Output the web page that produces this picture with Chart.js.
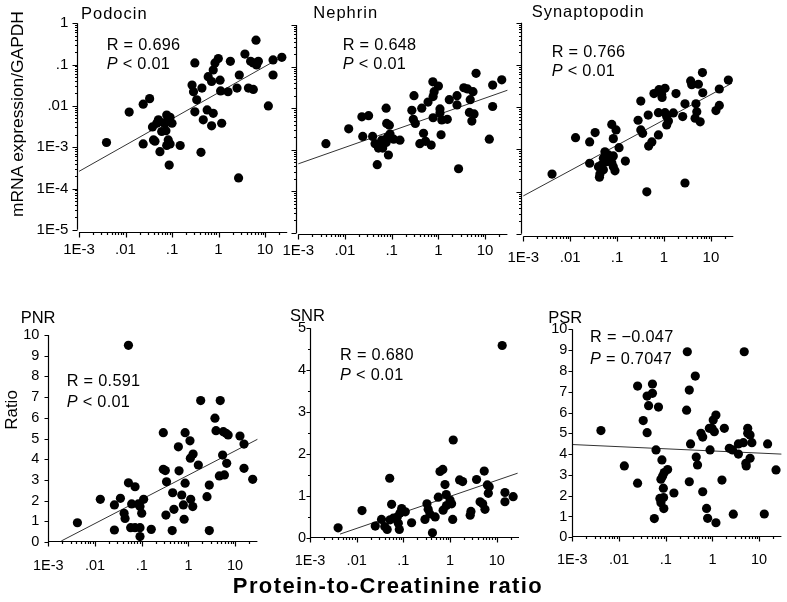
<!DOCTYPE html>
<html>
<head>
<meta charset="utf-8">
<script src="https://cdn.jsdelivr.net/npm/chart.js@4.4.1/dist/chart.umd.min.js"></script>
<style>
body { margin: 0; background: #fff; }
#fig { position: relative; width: 787px; height: 602px; overflow: hidden; font-family: "Liberation Sans", Arial, sans-serif; color: #000; }
#fig canvas { position: absolute; }
.t { position: absolute; white-space: nowrap; line-height: 1; }
</style>
</head>
<body>
<div id="fig"></div>
<script>
// axis ticks
const pcrTicks = [0.001, 0.01, 0.1, 1, 10];
const pcrLabels = ['1E-3', '.01', '.1', '1', '10'];
const mrnaTicks = [0.00001, 0.0001, 0.001, 0.01, 0.1, 1];
const mrnaLabels = ['1E-5', '1E-4', '1E-3', '.01', '.1', '1'];
const ratioTicks10 = [0, 1, 2, 3, 4, 5, 6, 7, 8, 9, 10];
const ratioTicks5 = [0, 0.5, 1, 1.5, 2, 2.5, 3, 3.5, 4, 4.5, 5];

// Podocin
const podocinPcr = [0.0039,0.012,0.024,0.033,0.024,0.040,0.043,0.038,0.051,0.047,0.065,0.060,0.071,0.077,0.091,0.10,0.074,0.083,0.077,0.091,0.055,0.087,0.15,0.31,0.27,0.29,0.34,0.31,0.44,0.47,0.42,0.57,0.60,0.71,0.77,0.84,0.99,1.08,1.11,0.77,0.71,1.17,1.6,1.8,2.8,2.5,2.7,3.7,4.9,5.6,6.6,4.4,5.6,6.4,7.2,11.8,14.9,23,14.9];
const podocinMrna = [0.0013,0.0071,0.011,0.015,0.0012,0.0015,0.0014,0.0031,0.0046,0.0038,0.0039,0.0024,0.0038,0.0060,0.0053,0.0038,0.0025,0.0015,0.0011,0.0012,0.00078,0.00037,0.0011,0.11,0.032,0.022,0.014,0.0072,0.027,0.0046,0.00075,0.0080,0.051,0.039,0.074,0.11,0.14,0.042,0.023,0.0066,0.0033,0.0038,0.022,0.12,0.056,0.027,0.00018,0.18,0.12,0.11,0.098,0.027,0.025,0.39,0.12,0.010,0.13,0.15,0.056];
const podocinFitX = [0.001, 27];
const podocinFitY = [0.00026, 0.17];

// Nephrin
const nephrinPcr = [0.0039,0.012,0.023,0.032,0.024,0.039,0.044,0.052,0.064,0.076,0.081,0.092,0.11,0.15,0.061,0.089,0.078,0.076,0.085,0.049,0.27,0.30,0.29,0.32,0.44,0.48,0.40,0.53,0.70,0.60,0.76,1.0,0.81,0.77,0.77,1.08,1.08,1.14,1.18,1.55,1.71,2.5,2.5,2.7,3.5,4.2,4.8,5.5,6.4,4.6,5.8,5.2,12.3,14.5,14.5,22.7];
const nephrinMrna = [0.0014,0.0032,0.0062,0.0066,0.0021,0.0021,0.0014,0.0011,0.0011,0.0015,0.0020,0.0024,0.0018,0.0017,0.0017,0.0039,0.0043,0.010,0.00075,0.00044,0.0089,0.020,0.0054,0.0043,0.010,0.0025,0.0014,0.0016,0.0013,0.014,0.043,0.034,0.025,0.019,0.0059,0.0096,0.0077,0.0023,0.0052,0.0054,0.016,0.020,0.012,0.00035,0.031,0.029,0.016,0.025,0.069,0.0079,0.0073,0.0049,0.0018,0.036,0.011,0.048];
const nephrinFitX = [0.001, 30];
const nephrinFitY = [0.00046, 0.027];

// Synaptopodin
const synaptoPcr = [0.0041,0.013,0.026,0.034,0.026,0.077,0.095,0.083,0.11,0.15,0.055,0.065,0.051,0.060,0.071,0.083,0.077,0.047,0.040,0.051,0.043,0.042,0.090,0.083,0.32,0.28,0.32,0.35,0.46,0.47,0.55,0.76,0.43,0.61,0.78,0.89,1.05,0.91,0.76,1.05,1.14,1.24,1.14,1.58,1.8,2.5,2.8,2.8,3.7,3.9,5.4,4.8,5.0,4.6,5.9,6.6,6.7,12.8,15.1,15.1,23.5];
const synaptoMrna = [0.00026,0.0019,0.0015,0.0025,0.00047,0.0039,0.0029,0.0018,0.0011,0.00053,0.00088,0.00074,0.00062,0.00051,0.00058,0.00070,0.00048,0.00043,0.00039,0.00033,0.00026,0.00022,0.00031,0.00039,0.014,0.0049,0.0029,0.0024,0.0065,0.0012,0.0015,0.0022,0.000099,0.021,0.026,0.020,0.028,0.017,0.0074,0.0074,0.0060,0.0047,0.0038,0.0073,0.021,0.0060,0.012,0.00016,0.042,0.034,0.035,0.012,0.0078,0.0055,0.0045,0.066,0.022,0.0083,0.011,0.027,0.044];
const synaptoFitX = [0.001, 28];
const synaptoFitY = [0.000079, 0.037];

// PNR
const pnrPcr = [0.0042,0.013,0.026,0.026,0.035,0.042,0.044,0.052,0.052,0.061,0.072,0.058,0.072,0.085,0.092,0.092,0.092,0.10,0.11,0.16,0.29,0.29,0.32,0.34,0.33,0.45,0.46,0.49,0.61,0.63,0.72,0.78,0.81,0.85,0.85,1.08,1.1,1.26,1.12,1.24,1.63,1.83,2.5,2.8,2.8,3.7,3.9,4.8,5.6,6.4,7.1,5.4,4.6,5.9,6.6,12.7,15.5,15.5,23.8];
const pnrRatio = [0.93,2.06,0.58,1.79,2.11,1.39,1.14,2.86,9.5,1.84,2.67,0.69,0.69,1.84,1.71,0.69,0.26,1.39,2.06,0.61,5.28,3.51,3.45,2.91,1.30,0.55,2.38,1.58,4.60,3.44,2.27,1.79,1.10,5.28,2.84,4.89,4.05,4.25,2.06,1.71,3.72,6.83,2.19,2.75,0.55,5.98,5.38,6.83,5.33,5.25,5.17,4.20,3.19,3.24,3.80,5.12,4.73,3.56,3.03];
const pnrFitX = [0.0019, 30];
const pnrFitY = [0.05, 4.96];

// SNR
const snrPcr = [0.0040,0.013,0.025,0.034,0.040,0.045,0.051,0.056,0.052,0.061,0.074,0.085,0.092,0.078,0.082,0.11,0.15,0.32,0.34,0.29,0.37,0.48,0.42,0.56,0.61,0.70,0.78,0.83,0.71,0.84,1.0,1.08,1.14,1.17,1.6,1.86,2.7,2.8,3.7,4.4,5.0,5.4,5.6,6.3,6.9,6.6,13.1,15,15,22.5];
const snrRatio = [0.25,0.66,0.29,0.45,0.28,0.21,1.43,0.81,0.44,0.48,0.51,0.60,0.71,0.36,0.21,0.63,0.37,0.82,0.69,0.45,0.58,0.51,0.13,0.98,1.59,1.64,1.28,1.04,0.67,0.78,0.91,0.82,0.45,2.34,1.39,1.35,0.55,0.64,1.40,0.87,0.82,1.60,0.69,1.27,1.23,1.07,4.59,1.09,0.87,0.99];
const snrFitX = [0.0044, 28];
const snrFitY = [0.1, 1.55];

// PSR
const psrPcr = [0.0041,0.013,0.025,0.025,0.033,0.040,0.043,0.040,0.052,0.052,0.057,0.062,0.070,0.083,0.11,0.093,0.086,0.079,0.089,0.075,0.090,0.079,0.091,0.15,0.28,0.29,0.32,0.32,0.34,0.43,0.45,0.48,0.57,0.62,0.62,0.75,0.79,0.86,0.98,0.89,1.04,1.10,1.19,1.19,1.6,1.8,2.3,2.7,2.8,3.6,3.6,4.6,4.8,5.7,5.7,5.2,5.3,6.4,6.4,7.0,12.9,15.2,23];
const psrRatio = [5.13,3.43,7.27,2.60,5.61,6.79,6.33,5.03,7.37,6.92,0.90,4.20,6.26,3.72,3.26,3.11,2.95,2.79,2.36,1.87,1.91,1.66,1.38,2.13,6.11,8.92,7.08,2.67,4.49,7.75,3.86,3.48,5.0,4.82,2.19,1.39,0.91,5.24,5.24,4.20,5.64,5.08,5.88,0.70,2.75,5.24,4.28,4.20,1.11,4.0,4.49,4.55,8.92,5.24,5.0,3.56,3.43,3.80,4.92,4.55,1.12,4.49,3.24];
const psrFitX = [0.001, 30];
const psrFitY = [4.46, 4.0];

const FONT = '"Liberation Sans", Arial, sans-serif';
const fig = document.getElementById('fig');

function withMinors(majors, max) {
    const out = [];
    majors.forEach(m => {
        out.push({value: m, major: true});
        for (let k = 2; k <= 9; k++) {
            const v = +(m * k).toPrecision(6);
            if (v < max) out.push({value: v, major: false});
        }
    });
    return out;
}

function labelOf(v, vals, labels) {
    const i = vals.findIndex(t => Math.abs(v - t) <= t * 1e-6 + 1e-12);
    return i < 0 ? '' : labels[i];
}

// draws axis lines + tick marks (major long, minor short)
const axisMarks = {
    id: 'axisMarks',
    afterDraw(chart, args, o) {
        const ctx = chart.ctx, a = chart.chartArea;
        const xs = chart.scales.x, ys = chart.scales.y;
        const ax = Math.round(a.left - o.gy) + 0.5;
        const ay = Math.round(a.bottom + o.gx) - 0.5;
        ctx.save();
        ctx.strokeStyle = '#000';
        ctx.lineWidth = 1.2;
        ctx.beginPath();
        ctx.moveTo(ax, a.top);
        ctx.lineTo(ax, o.gx ? a.bottom : ay);
        ctx.moveTo(o.gy ? a.left : ax, ay);
        ctx.lineTo(a.right, ay);
        ys.ticks.forEach(t => {
            const p = Math.round(ys.getPixelForValue(t.value)) + 0.5;
            ctx.moveTo(ax, p);
            ctx.lineTo(ax - (t.major ? o.yLong : 2.5), p);
        });
        xs.ticks.forEach(t => {
            const p = Math.round(xs.getPixelForValue(t.value)) + 0.5;
            ctx.moveTo(p, ay);
            ctx.lineTo(p, ay + (t.major ? 5 : 2.5));
        });
        ctx.stroke();
        ctx.restore();
    }
};

const panels = [
    {x: podocinPcr, y: podocinMrna, fx: podocinFitX, fy: podocinFitY, L: 79, R: 287.2, T: 23.3, B: 229.8, gx: 3.2, gy: 2.5, log: true, showY: true, xPad: 11, yPad: 10.7, fs: 15, yLong: 5},
    {x: nephrinPcr, y: nephrinMrna, fx: nephrinFitX, fy: nephrinFitY, L: 298.3, R: 507.4, T: 25, B: 233, gx: 1.5, gy: 2.3, log: true, showY: false, xPad: 9, yPad: 8, fs: 15, yLong: 5},
    {x: synaptoPcr, y: synaptoMrna, fx: synaptoFitX, fy: synaptoFitY, L: 523.3, R: 733.3, T: 22.8, B: 233.8, gx: 2.9, gy: 2.6, log: true, showY: false, xPad: 15, yPad: 8, fs: 15, yLong: 5},
    {x: pnrPcr, y: pnrRatio, fx: pnrFitX, fy: pnrFitY, L: 48.3, R: 257.4, T: 335, B: 542, gx: 0, gy: 0, log: false, yMax: 10, yTicks: ratioTicks10, showY: true, xPad: 15, yPad: 9, fs: 14.5, yLong: 4},
    {x: snrPcr, y: snrRatio, fx: snrFitX, fy: snrFitY, L: 310, R: 519, T: 328.3, B: 538.3, gx: 0, gy: 0, log: false, yMax: 5, yTicks: ratioTicks5, showY: true, xPad: 14, yPad: 4, fs: 14.5, yLong: 4},
    {x: psrPcr, y: psrRatio, fx: psrFitX, fy: psrFitY, L: 572.3, R: 781.4, T: 329.3, B: 537.3, gx: 0, gy: 0, log: false, yMax: 10, yTicks: ratioTicks10, showY: true, xPad: 14, yPad: 5, fs: 14.5, yLong: 4}
];

panels.forEach(p => {
    const left = Math.floor(p.L) - 58, top = Math.floor(p.T) - 12;
    const right = Math.ceil(p.R) + 10, bottom = Math.ceil(p.B) + 36;
    const cv = document.createElement('canvas');
    cv.width = right - left;
    cv.height = bottom - top;
    cv.style.left = left + 'px';
    cv.style.top = top + 'px';
    fig.appendChild(cv);
    const yW = p.L - left, xH = bottom - p.B;

    const yScale = p.log ? {
        type: 'logarithmic', min: 0.00001, max: 1,
        afterBuildTicks: s => { s.ticks = withMinors(mrnaTicks, 1.0001); },
        ticks: {callback: v => labelOf(v, mrnaTicks, mrnaLabels)}
    } : {
        type: 'linear', min: 0, max: p.yMax,
        afterBuildTicks: s => { s.ticks = p.yTicks.map(v => ({value: v, major: Number.isInteger(v)})); },
        ticks: {callback: v => Number.isInteger(v) ? String(v) : ''}
    };
    Object.assign(yScale, {
        position: 'left',
        afterFit: s => { s.width = yW; s.paddingTop = 0; s.paddingBottom = 0; },
        grid: {display: false, drawTicks: false},
        border: {display: false}
    });
    Object.assign(yScale.ticks, {display: p.showY, autoSkip: false, padding: p.yPad, color: '#000', font: {family: FONT, size: p.fs}});

    new Chart(cv, {
        type: 'scatter',
        data: {
            datasets: [{
                data: p.x.map((v, i) => ({x: v, y: p.y[i]})),
                backgroundColor: '#000',
                borderColor: '#000',
                borderWidth: 0,
                pointRadius: 4.6,
                pointHoverRadius: 4.6,
                clip: false
            }, {
                type: 'line',
                data: p.fx.map((v, i) => ({x: v, y: p.fy[i]})),
                borderColor: '#333',
                borderWidth: 1,
                pointRadius: 0,
                fill: false,
                clip: false
            }]
        },
        options: {
            responsive: false,
            animation: false,
            devicePixelRatio: 1,
            events: [],
            layout: {autoPadding: false, padding: {left: 0, top: p.T - top, right: right - p.R, bottom: 0}},
            plugins: {legend: {display: false}, tooltip: {enabled: false}, axisMarks: {gx: p.gx, gy: p.gy, yLong: p.yLong}},
            scales: {
                x: {
                    type: 'logarithmic', min: 0.001, max: 30, position: 'bottom',
                    afterBuildTicks: s => { s.ticks = withMinors(pcrTicks, 29.9); },
                    afterFit: s => { s.height = xH; s.paddingLeft = 0; s.paddingRight = 0; },
                    grid: {display: false, drawTicks: false},
                    border: {display: false},
                    ticks: {autoSkip: false, maxRotation: 0, padding: p.xPad, color: '#000', font: {family: FONT, size: p.fs},
                        callback: v => labelOf(v, pcrTicks, pcrLabels)}
                },
                y: yScale
            }
        },
        plugins: [axisMarks]
    });
});

function txt(html, left, base, size, extra) {
    const d = document.createElement('div');
    d.className = 't';
    d.innerHTML = html;
    d.style.left = left + 'px';
    d.style.top = (base - 0.8465 * size) + 'px';
    d.style.fontSize = size + 'px';
    if (extra) Object.assign(d.style, extra);
    fig.appendChild(d);
}

const sp = {letterSpacing: '1px'};
txt('Podocin', 81, 19, 16.5, sp);
txt('Nephrin', 313.3, 18.3, 16.5, sp);
txt('Synaptopodin', 531.7, 16.5, 16.5, sp);
txt('PNR', 20.7, 322.7, 16.5);
txt('SNR', 290, 320.7, 16.5);
txt('PSR', 548.3, 323.3, 16.5);

const rs = {letterSpacing: '0.3px'};
txt('R = 0.696', 106.7, 50, 16.3, rs);
txt('<i>P</i> &lt; 0.01', 106.7, 69, 16.3, rs);
txt('R = 0.648', 342.7, 50, 16.3, rs);
txt('<i>P</i> &lt; 0.01', 342.7, 69, 16.3, rs);
txt('R = 0.766', 551.7, 56.7, 16.3, rs);
txt('<i>P</i> &lt; 0.01', 551.7, 76, 16.3, rs);
txt('R = 0.591', 66.7, 386, 16.3, rs);
txt('<i>P</i> &lt; 0.01', 66.7, 406.5, 16.3, rs);
txt('R = 0.680', 340, 360, 16.3, rs);
txt('<i>P</i> &lt; 0.01', 340, 380, 16.3, rs);
txt('R = \u22120.047', 590, 341.7, 16.3, rs);
txt('<i>P</i> = 0.7047', 590, 363.3, 16.3, rs);

function vtxt(text, cx, cy, size) {
    const d = document.createElement('div');
    d.className = 't';
    d.textContent = text;
    d.style.left = cx + 'px';
    d.style.top = cy + 'px';
    d.style.fontSize = size + 'px';
    d.style.transform = 'translate(-50%, -50%) rotate(-90deg)';
    fig.appendChild(d);
}
vtxt('mRNA expression/GAPDH', 18, 114, 17.4);
vtxt('Ratio', 10.8, 410, 17);

txt('Protein-to-Creatinine ratio', 388, 594, 22, {fontWeight: 'bold', letterSpacing: '1.4px', transform: 'translateX(-50%)'});
</script>
</body>
</html>
